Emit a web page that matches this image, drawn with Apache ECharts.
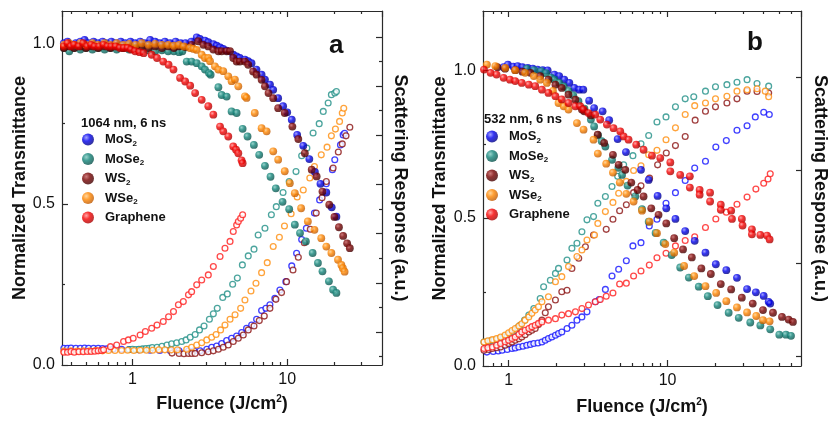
<!DOCTYPE html>
<html><head><meta charset="utf-8">
<script src="https://cdn.jsdelivr.net/npm/echarts@6/dist/echarts.min.js"></script>
<style>html,body{margin:0;padding:0;background:#fff}#c{width:832px;height:423px}</style>
</head><body><div id="c"></div>
<script>
// ---------- DATA (Fluence J/cm2, value) ----------
const legendNames = ['MoS2','MoSe2','WS2','WSe2','Graphene'];
const panelTitles = ['1064 nm, 6 ns','532 nm, 6 ns'];
const panelLetters = ['a','b'];
const xLabelTicks = [1, 10];
const yLabelTicks = [0, 0.5, 1.0];
const yMinorTicks = [0.25, 0.75];
const xMinorTicksA = [0.4,0.5,0.6,0.7,0.8,0.9,2,3,4,5,6,7,8,9,20,30];
const xMinorTicksB = [0.8,0.9,2,3,4,5,6,7,8,9,20,30,40,50,60];
const rightMajorA = [1,3,5,7,9,11,13];
const rightMinorA = [0,2,4,6,8,10,12];
const rightMajorB = [0,1,2,3];

// Panel a : 1064 nm — transmittance (filled)
const MoS2_a_T = [[0.36,1.0],[0.38,1.005],[0.40,0.995],[0.43,1.0],[0.46,1.005],[0.49,1.01],[0.52,1.0],[0.56,1.005],[0.60,1.0],[0.64,1.005],[0.68,1.0],[0.73,1.005],[0.78,1.0],[0.84,1.005],[0.90,1.0],[0.97,1.005],[1.04,1.0],[1.12,1.005],[1.20,1.0],[1.30,1.01],[1.40,1.005],[1.50,1.0],[1.62,1.005],[1.75,1.0],[1.90,1.005],[2.05,1.0],[2.20,1.0],[2.40,1.005],[2.60,1.018],[2.73,1.013],[2.94,1.008],[3.09,1.003],[3.33,0.997],[3.50,0.992],[3.68,0.987],[3.86,0.982],[4.06,0.977],[4.48,0.964],[4.71,0.959],[4.94,0.954],[5.33,0.949],[5.59,0.944],[5.88,0.938],[6.33,0.918],[6.83,0.902],[7.18,0.887],[7.74,0.871],[8.12,0.855],[8.74,0.829],[9.41,0.804],[10.0,0.785],[10.7,0.762],[11.6,0.715],[12.7,0.681],[13.9,0.640],[15.1,0.600],[16.4,0.563],[17.9,0.536],[19.4,0.490],[20.8,0.461]];
const MoSe2_a_T = [[0.36,0.985],[0.39,0.975],[0.42,0.985],[0.46,0.98],[0.50,0.985],[0.55,0.98],[0.60,0.985],[0.66,0.98],[0.72,0.985],[0.79,0.98],[0.87,0.985],[0.95,0.98],[1.05,0.985],[1.15,0.98],[1.27,0.978],[1.40,0.975],[1.55,0.978],[1.70,0.975],[1.85,0.975],[2.0,0.972],[2.1,0.975],[2.24,0.943],[2.41,0.943],[2.60,0.938],[2.80,0.928],[2.94,0.918],[3.12,0.907],[3.20,0.902],[3.59,0.863],[3.77,0.839],[4.06,0.834],[4.37,0.788],[4.71,0.783],[5.15,0.734],[5.54,0.710],[6.09,0.684],[6.59,0.653],[7.18,0.619],[7.80,0.585],[8.44,0.549],[9.33,0.507],[10.3,0.484],[11.2,0.436],[12.1,0.410],[13.2,0.384],[14.6,0.348],[15.8,0.317],[16.9,0.291],[18.6,0.260],[19.8,0.234],[20.8,0.224]];
const WS2_a_T = [[0.36,0.985],[0.39,0.99],[0.42,0.985],[0.46,0.99],[0.50,0.985],[0.55,0.99],[0.60,0.985],[0.66,0.99],[0.72,0.985],[0.79,0.99],[0.87,0.985],[0.95,0.99],[1.05,0.985],[1.15,0.99],[1.27,0.985],[1.40,0.99],[1.55,0.985],[1.70,0.99],[1.85,0.985],[2.0,0.99],[2.2,0.988],[2.41,0.995],[2.66,1.006],[2.87,0.995],[3.09,0.99],[3.33,0.98],[3.59,0.975],[3.77,0.975],[4.06,0.975],[4.27,0.975],[4.48,0.954],[4.71,0.943],[4.94,0.943],[5.33,0.943],[5.60,0.933],[6.02,0.912],[6.34,0.902],[6.83,0.886],[7.18,0.866],[7.57,0.845],[8.12,0.829],[8.74,0.798],[9.64,0.783],[10.8,0.741],[11.8,0.702],[13.0,0.658],[14.4,0.607],[15.5,0.586],[16.9,0.539],[18.7,0.498],[20.2,0.46],[21.6,0.428],[23.0,0.401],[24.4,0.378],[25.4,0.363]];
const WSe2_a_T = [[0.36,0.995],[0.39,1.0],[0.42,0.995],[0.46,1.0],[0.50,0.995],[0.55,1.0],[0.60,0.995],[0.66,1.0],[0.72,0.995],[0.79,1.0],[0.87,0.995],[0.95,0.998],[1.05,0.995],[1.15,1.0],[1.27,0.995],[1.40,0.998],[1.55,0.995],[1.70,0.995],[1.85,0.992],[2.0,0.995],[2.15,0.99],[2.35,0.985],[2.48,0.982],[2.60,0.979],[2.80,0.964],[2.94,0.954],[3.09,0.954],[3.17,0.944],[3.41,0.928],[3.59,0.918],[3.86,0.913],[4.16,0.897],[4.37,0.882],[4.59,0.887],[4.83,0.866],[5.33,0.835],[5.46,0.830],[6.17,0.783],[6.83,0.736],[7.36,0.726],[8.12,0.664],[8.74,0.638],[9.64,0.602],[10.4,0.565],[11.2,0.534],[12.3,0.487],[13.6,0.446],[15.0,0.420],[16.6,0.394],[17.9,0.368],[19.3,0.348],[21.3,0.327],[22.4,0.311],[22.9,0.301],[23.5,0.290]];
const Gr_a_T = [[0.36,0.99],[0.38,1.0],[0.40,0.99],[0.42,0.995],[0.45,0.99],[0.48,1.0],[0.51,0.99],[0.54,0.995],[0.57,0.99],[0.61,0.99],[0.65,0.995],[0.69,0.99],[0.73,0.99],[0.78,0.99],[0.83,0.985],[0.88,0.985],[0.93,0.985],[0.98,0.98],[1.04,0.975],[1.11,0.972],[1.18,0.969],[1.33,0.964],[1.44,0.954],[1.58,0.943],[1.71,0.933],[1.84,0.918],[2.03,0.892],[2.19,0.881],[2.36,0.868],[2.54,0.845],[2.80,0.824],[3.09,0.804],[3.33,0.778],[3.68,0.741],[3.86,0.726],[4.16,0.710],[4.48,0.679],[4.67,0.669],[4.83,0.658],[5.07,0.636],[5.15,0.627]];

// Panel a : scattering (open)
const MoS2_a_S = [[0.36,0.052],[0.38,0.052],[0.40,0.053],[0.43,0.052],[0.46,0.052],[0.49,0.053],[0.52,0.052],[0.56,0.052],[0.60,0.052],[0.64,0.051],[0.68,0.05],[0.75,0.05],[0.85,0.049],[0.95,0.048],[1.1,0.047],[1.3,0.046],[1.5,0.045],[1.75,0.045],[2.0,0.044],[2.3,0.044],[2.5,0.044],[2.73,0.044],[3.02,0.049],[3.25,0.055],[3.50,0.059],[3.77,0.067],[4.06,0.076],[4.37,0.083],[4.71,0.090],[5.08,0.101],[5.46,0.114],[5.89,0.124],[6.34,0.142],[6.83,0.169],[7.28,0.176],[7.73,0.187],[8.32,0.207],[8.97,0.233],[9.80,0.259],[10.7,0.308],[11.5,0.347],[12.4,0.39],[13.3,0.425],[15.0,0.472],[16.2,0.513],[17.9,0.563],[19.6,0.607],[20.3,0.638],[22.1,0.684],[23.0,0.715],[23.5,0.72]];
const MoSe2_a_S = [[0.95,0.048],[1.0,0.049],[1.05,0.048],[1.10,0.049],[1.16,0.05],[1.22,0.051],[1.28,0.052],[1.34,0.054],[1.44,0.055],[1.55,0.058],[1.67,0.062],[1.79,0.066],[1.93,0.069],[2.08,0.073],[2.22,0.078],[2.36,0.086],[2.54,0.095],[2.71,0.109],[2.90,0.121],[3.14,0.142],[3.33,0.159],[3.53,0.176],[3.83,0.210],[4.10,0.221],[4.44,0.251],[4.76,0.270],[5.13,0.311],[5.60,0.339],[6.10,0.360],[6.49,0.404],[7.18,0.425],[7.9,0.467],[8.5,0.492],[9.4,0.536],[10.3,0.570],[11.4,0.601],[12.4,0.650],[13.4,0.674],[14.7,0.721],[16.1,0.750],[17.1,0.788],[18.4,0.814],[19.3,0.840],[20.3,0.845],[20.8,0.850]];
const WS2_a_S = [[1.8,0.037],[2.0,0.036],[2.15,0.035],[2.3,0.036],[2.42,0.036],[2.54,0.036],[2.80,0.038],[3.09,0.041],[3.33,0.044],[3.59,0.049],[3.86,0.055],[4.16,0.062],[4.48,0.073],[4.83,0.083],[5.20,0.093],[5.60,0.109],[6.10,0.121],[6.60,0.138],[7.11,0.152],[7.73,0.176],[8.45,0.204],[9.19,0.225],[9.90,0.259],[10.9,0.295],[11.8,0.335],[12.9,0.38],[14.1,0.422],[15.4,0.472],[16.8,0.52],[17.9,0.57],[19.8,0.612],[21.4,0.662],[22.7,0.687],[24.0,0.712],[25.4,0.739]];
const WSe2_a_S = [[0.36,0.043],[0.40,0.044],[0.44,0.043],[0.48,0.044],[0.53,0.044],[0.58,0.045],[0.64,0.044],[0.70,0.045],[0.77,0.045],[0.85,0.045],[0.93,0.046],[1.02,0.045],[1.12,0.046],[1.23,0.046],[1.35,0.046],[1.48,0.047],[1.62,0.047],[1.78,0.047],[1.95,0.047],[2.24,0.049],[2.41,0.055],[2.60,0.062],[2.80,0.069],[3.02,0.078],[3.25,0.086],[3.47,0.095],[3.71,0.109],[3.96,0.124],[4.27,0.142],[4.60,0.156],[5.00,0.176],[5.33,0.202],[5.83,0.230],[6.28,0.254],[6.83,0.287],[7.43,0.318],[8.12,0.368],[8.9,0.397],[9.6,0.432],[10.6,0.470],[11.6,0.522],[12.7,0.544],[14.0,0.581],[15.0,0.617],[16.6,0.653],[18.1,0.677],[19.3,0.712],[20.5,0.733],[21.8,0.757],[22.7,0.783],[23.2,0.798]];
const Gr_a_S = [[0.36,0.040],[0.38,0.040],[0.40,0.042],[0.42,0.040],[0.45,0.041],[0.48,0.041],[0.51,0.042],[0.54,0.042],[0.57,0.043],[0.60,0.044],[0.63,0.045],[0.65,0.047],[0.72,0.057],[0.79,0.062],[0.875,0.073],[0.94,0.078],[1.01,0.083],[1.12,0.093],[1.21,0.104],[1.33,0.114],[1.44,0.124],[1.58,0.135],[1.71,0.150],[1.84,0.166],[1.98,0.187],[2.13,0.197],[2.30,0.218],[2.41,0.228],[2.60,0.249],[2.80,0.264],[3.09,0.280],[3.33,0.306],[3.68,0.337],[3.96,0.363],[4.27,0.384],[4.48,0.415],[4.71,0.435],[4.83,0.446],[5.0,0.456],[5.15,0.467]];

// Panel b : 532 nm — transmittance (filled)
const MoS2_b_T = [[0.93,1.01],[0.99,1.019],[1.07,1.012],[1.14,1.014],[1.22,1.01],[1.32,1.008],[1.42,1.005],[1.52,1.002],[1.64,1.0],[1.76,0.999],[1.94,0.985],[2.08,0.980],[2.24,0.968],[2.41,0.957],[2.59,0.940],[2.78,0.934],[2.95,0.934],[3.21,0.897],[3.45,0.872],[3.90,0.861],[4.29,0.831],[4.85,0.767],[5.47,0.723],[6.80,0.663],[7.60,0.629],[8.65,0.575],[9.81,0.533],[11.2,0.497],[12.9,0.456],[14.8,0.423],[17.3,0.383],[20.1,0.344],[23.4,0.324],[27.3,0.298],[31.6,0.260],[35.9,0.249],[40.2,0.237],[43.2,0.217],[44.2,0.211]];
const MoSe2_b_T = [[1.30,1.005],[1.45,1.0],[1.60,0.997],[1.72,0.99],[1.85,0.975],[1.94,0.968],[2.08,0.957],[2.22,0.945],[2.38,0.93],[2.55,0.915],[2.75,0.895],[3.0,0.87],[3.29,0.833],[3.45,0.81],[3.65,0.78],[3.85,0.76],[4.06,0.742],[4.47,0.697],[4.9,0.67],[5.17,0.646],[5.6,0.61],[6.26,0.573],[6.9,0.53],[7.60,0.488],[8.4,0.45],[9.44,0.417],[10.6,0.375],[12.0,0.333],[13.6,0.299],[15.7,0.268],[17.9,0.236],[20.6,0.206],[24.2,0.18],[28.0,0.163],[33.1,0.147],[38.3,0.137],[44.2,0.124],[50.4,0.106],[55.5,0.106],[59.7,0.102]];
const WS2_b_T = [[0.85,1.01],[0.95,1.005],[1.10,1.0],[1.22,0.995],[1.37,0.991],[1.58,0.98],[1.78,0.968],[1.97,0.951],[2.16,0.94],[2.38,0.917],[2.63,0.90],[2.89,0.867],[2.99,0.861],[3.29,0.847],[3.63,0.782],[3.99,0.754],[4.53,0.714],[4.92,0.680],[5.42,0.663],[5.91,0.620],[6.47,0.595],[7.06,0.573],[7.89,0.533],[8.77,0.511],[9.81,0.482],[11.0,0.432],[12.5,0.394],[14.2,0.367],[16.3,0.330],[18.7,0.311],[21.6,0.277],[25.1,0.259],[29.3,0.231],[34.3,0.211],[39.8,0.189],[46.0,0.180],[52.4,0.166],[57.7,0.157],[61.4,0.149]];
const WSe2_b_T = [[0.73,1.019],[0.825,1.014],[0.953,1.008],[1.10,1.0],[1.27,0.991],[1.44,0.98],[1.58,0.968],[1.74,0.957],[1.90,0.93],[2.06,0.889],[2.22,0.878],[2.38,0.867],[2.69,0.821],[2.96,0.799],[3.42,0.765],[3.64,0.718],[4.11,0.684],[4.53,0.654],[5.0,0.62],[5.50,0.582],[6.11,0.556],[6.90,0.525],[7.70,0.488],[8.57,0.449],[9.67,0.412],[11.0,0.383],[12.7,0.338],[14.7,0.304],[17.3,0.270],[20.2,0.247],[23.4,0.219],[27.3,0.198],[31.6,0.181],[36.1,0.169],[39.8,0.155],[43.8,0.151]];
const Gr_b_T = [[0.70,1.002],[0.77,0.991],[0.84,0.985],[0.93,0.974],[1.02,0.968],[1.10,0.963],[1.21,0.957],[1.34,0.951],[1.47,0.946],[1.62,0.934],[1.78,0.923],[1.97,0.912],[2.16,0.901],[2.38,0.889],[2.63,0.878],[2.82,0.878],[2.96,0.867],[3.18,0.855],[3.51,0.850],[3.77,0.833],[4.15,0.816],[4.57,0.804],[5.04,0.793],[5.29,0.776],[5.68,0.765],[6.35,0.748],[7.06,0.731],[7.97,0.711],[8.99,0.703],[10.4,0.688],[10.4,0.658],[12.0,0.646],[13.8,0.641],[13.8,0.603],[15.9,0.595],[15.9,0.579],[18.5,0.586],[18.5,0.556],[21.6,0.545],[21.6,0.528],[25.1,0.525],[25.4,0.497],[29.3,0.497],[29.6,0.475],[33.9,0.462],[33.9,0.445],[38.3,0.443],[42.2,0.441],[43.8,0.428]];

// Panel b : scattering (open)
const MoS2_b_S = [[0.73,0.047],[0.80,0.049],[0.86,0.051],[0.91,0.053],[0.98,0.056],[1.05,0.059],[1.10,0.061],[1.16,0.064],[1.23,0.067],[1.30,0.070],[1.37,0.073],[1.44,0.076],[1.53,0.078],[1.62,0.081],[1.70,0.087],[1.78,0.093],[1.87,0.098],[1.97,0.104],[2.06,0.11],[2.16,0.115],[2.33,0.127],[2.50,0.138],[2.69,0.155],[2.89,0.166],[3.11,0.183],[3.51,0.217],[3.71,0.225],[4.06,0.259],[4.47,0.304],[4.92,0.327],[5.50,0.356],[6.05,0.406],[6.80,0.417],[7.67,0.473],[8.57,0.496],[9.77,0.550],[11.2,0.586],[12.9,0.627],[14.8,0.669],[17.3,0.692],[20.1,0.740],[23.4,0.762],[27.3,0.797],[31.6,0.812],[35.6,0.842],[40.2,0.858],[43.6,0.850]];
const MoSe2_b_S = [[0.70,0.081],[0.74,0.083],[0.77,0.085],[0.81,0.087],[0.84,0.089],[0.89,0.094],[0.93,0.098],[0.98,0.104],[1.02,0.110],[1.06,0.115],[1.10,0.121],[1.14,0.13],[1.18,0.138],[1.26,0.155],[1.34,0.172],[1.44,0.194],[1.58,0.228],[1.66,0.268],[1.83,0.290],[1.97,0.313],[2.06,0.330],[2.33,0.358],[2.50,0.398],[2.69,0.415],[2.89,0.454],[3.11,0.494],[3.42,0.505],[3.64,0.550],[4.06,0.573],[4.47,0.607],[4.85,0.641],[5.29,0.680],[6.05,0.711],[6.80,0.751],[7.60,0.779],[8.57,0.825],[9.77,0.842],[11.2,0.876],[12.9,0.903],[14.6,0.910],[17.3,0.929],[20.0,0.944],[23.6,0.951],[27.3,0.959],[31.6,0.968],[36.5,0.955],[43.2,0.946]];
const WS2_b_S = [[0.70,0.053],[0.75,0.056],[0.79,0.059],[0.84,0.062],[0.89,0.064],[0.95,0.07],[1.0,0.076],[1.05,0.081],[1.10,0.087],[1.16,0.092],[1.21,0.098],[1.27,0.106],[1.34,0.115],[1.40,0.121],[1.47,0.127],[1.54,0.14],[1.62,0.155],[1.70,0.18],[1.78,0.200],[1.97,0.223],[2.16,0.251],[2.33,0.256],[2.50,0.330],[2.76,0.364],[3.04,0.403],[3.42,0.443],[4.11,0.462],[4.53,0.496],[4.99,0.525],[5.50,0.545],[6.11,0.586],[6.80,0.609],[7.70,0.635],[8.65,0.680],[9.81,0.720],[11.2,0.745],[12.9,0.776],[14.9,0.831],[17.3,0.861],[20.0,0.876],[23.6,0.889],[27.3,0.903],[31.6,0.929],[36.5,0.928],[43.2,0.923]];
const WSe2_b_S = [[0.70,0.081],[0.74,0.085],[0.79,0.089],[0.84,0.093],[0.89,0.098],[0.95,0.105],[1.0,0.112],[1.05,0.12],[1.10,0.127],[1.16,0.135],[1.21,0.143],[1.27,0.155],[1.34,0.166],[1.40,0.178],[1.47,0.189],[1.54,0.2],[1.62,0.217],[1.78,0.234],[1.97,0.285],[2.16,0.302],[2.38,0.336],[2.69,0.370],[2.89,0.392],[3.11,0.426],[3.47,0.443],[3.64,0.482],[4.06,0.522],[4.53,0.553],[4.92,0.584],[5.50,0.624],[6.11,0.661],[6.80,0.677],[7.60,0.714],[8.57,0.729],[9.77,0.765],[11.2,0.805],[12.9,0.850],[14.8,0.880],[17.3,0.889],[20.0,0.903],[23.6,0.912],[27.3,0.929],[31.6,0.934],[36.5,0.937],[41.1,0.929],[43.2,0.910]];
const Gr_b_S = [[0.70,0.059],[0.74,0.062],[0.79,0.064],[0.84,0.07],[0.89,0.076],[0.95,0.082],[1.0,0.087],[1.05,0.093],[1.10,0.098],[1.16,0.107],[1.21,0.115],[1.27,0.121],[1.34,0.127],[1.40,0.133],[1.47,0.138],[1.54,0.144],[1.62,0.149],[1.78,0.155],[1.97,0.160],[2.16,0.172],[2.38,0.177],[2.63,0.183],[2.89,0.194],[3.18,0.206],[3.51,0.217],[3.77,0.225],[4.11,0.236],[4.53,0.247],[4.99,0.277],[5.50,0.28],[6.11,0.304],[6.80,0.321],[7.67,0.341],[8.57,0.366],[9.77,0.381],[11.2,0.406],[12.9,0.424],[14.8,0.437],[17.3,0.468],[20.1,0.497],[23.4,0.520],[27.3,0.547],[31.6,0.571],[35.9,0.598],[40.2,0.618],[42.8,0.632],[44.2,0.650]];

// ---------- STYLE ----------
const FONT = "'Liberation Sans', Arial, Helvetica, sans-serif";
const AX = '#2a2a2a';
const palette = {
  MoS2:    {base:'#0000ee', light:'#8c8cff', dark:'#00007a', line:'#1010ff'},
  MoSe2:   {base:'#128479', light:'#7fc8bf', dark:'#084c46', line:'#1f8f86'},
  WS2:     {base:'#780000', light:'#c05a5a', dark:'#3e0000', line:'#8a1010'},
  WSe2:    {base:'#ff8600', light:'#ffcc85', dark:'#b85400', line:'#ff8c0a'},
  Graphene:{base:'#f60000', light:'#ff8f8f', dark:'#a00000', line:'#ff1a1a'}
};
function sphere(p){
  return {type:'radial', x:0.36, y:0.34, r:0.72, colorStops:[
    {offset:0, color:p.light},{offset:0.42, color:p.base},{offset:1, color:p.dark}]};
}
const subName = {MoS2:['MoS','2'], MoSe2:['MoSe','2'], WS2:['WS','2'], WSe2:['WSe','2'], Graphene:['Graphene','']};

const dataA_T = {MoS2:MoS2_a_T, MoSe2:MoSe2_a_T, WS2:WS2_a_T, WSe2:WSe2_a_T, Graphene:Gr_a_T};
const dataA_S = {MoS2:MoS2_a_S, MoSe2:MoSe2_a_S, WS2:WS2_a_S, WSe2:WSe2_a_S, Graphene:Gr_a_S};
const dataB_T = {MoS2:MoS2_b_T, MoSe2:MoSe2_b_T, WS2:WS2_b_T, WSe2:WSe2_b_T, Graphene:Gr_b_T};
const dataB_S = {MoS2:MoS2_b_S, MoSe2:MoSe2_b_S, WS2:WS2_b_S, WSe2:WSe2_b_S, Graphene:Gr_b_S};

const lineStyle = {color:AX, width:1.2};
const tickText = {fontSize:16, color:'#111', fontFamily:FONT};
const nameStyle = {fontSize:18, fontWeight:'bold', color:'#111', fontFamily:FONT};
const fluenceName = '{b|Fluence (J/cm}{p|2}{b|)}';
const fluenceRich = {
  b:{fontSize:18, fontWeight:'bold', fontFamily:FONT, color:'#111', lineHeight:20},
  p:{fontSize:10, fontWeight:'bold', fontFamily:FONT, color:'#111', lineHeight:10, verticalAlign:'top'}
};

function xMain(g, min, max, pos, labels, nameGap){
  const a = {type:'log', logBase:10, gridIndex:g, min, max, position:pos,
    axisLine:{show:true, onZero:false, lineStyle},
    axisTick:{show:true, inside:true, length:6, lineStyle},
    axisLabel:Object.assign({show:labels, showMinLabel:false, showMaxLabel:false, margin:7}, tickText),
    splitLine:{show:false}, minorTick:{show:false}, minorSplitLine:{show:false}};
  if (labels){ a.name = fluenceName; a.nameLocation='middle'; a.nameGap=nameGap; a.nameTextStyle={rich:fluenceRich}; }
  return a;
}
function xMinor(g, min, max, pos, vals){
  return {type:'value', gridIndex:g, min:Math.log10(min), max:Math.log10(max), position:pos,
    axisLine:{show:false, onZero:false}, axisLabel:{show:false}, splitLine:{show:false},
    axisTick:{show:true, inside:true, length:3, customValues:vals.map(Math.log10), lineStyle}};
}
function yLeft(g, max, nameGap){
  return {type:'value', gridIndex:g, min:0, max, position:'left',
    axisLine:{show:true, onZero:false, lineStyle},
    axisTick:{show:true, inside:true, length:6, customValues:yLabelTicks, lineStyle},
    axisLabel:Object.assign({customValues:yLabelTicks, margin:7, formatter:v=>Number(v).toFixed(1)}, tickText),
    splitLine:{show:false},
    name:'Normalized Transmittance', nameLocation:'middle', nameGap, nameRotate:90, nameTextStyle:nameStyle};
}
function yLeftMinor(g, max){
  return {type:'value', gridIndex:g, min:0, max, position:'left',
    axisLine:{show:false, onZero:false}, axisLabel:{show:false}, splitLine:{show:false},
    axisTick:{show:true, inside:true, length:3, customValues:yMinorTicks, lineStyle}};
}
function yRight(g, min, max, vals, len, withLine, nameGap){
  const a = {type:'value', gridIndex:g, min, max, position:'right',
    axisLine:{show:withLine, onZero:false, lineStyle}, axisLabel:{show:false}, splitLine:{show:false},
    axisTick:{show:vals.length>0, inside:true, length:len, customValues:vals, lineStyle}};
  if (withLine){ a.name='Scattering Response (a.u.)'; a.nameLocation='middle'; a.nameGap=nameGap; a.nameRotate=-90; a.nameTextStyle=nameStyle; }
  return a;
}

const xA = [0.35, 41], xB = [0.69, 69];
const xAxis = [
  xMain(0, xA[0], xA[1], 'bottom', true, 29), xMinor(0, xA[0], xA[1], 'bottom', xMinorTicksA),
  xMain(0, xA[0], xA[1], 'top', false), xMinor(0, xA[0], xA[1], 'top', xMinorTicksA),
  xMain(1, xB[0], xB[1], 'bottom', true, 31), xMinor(1, xB[0], xB[1], 'bottom', xMinorTicksB),
  xMain(1, xB[0], xB[1], 'top', false), xMinor(1, xB[0], xB[1], 'top', xMinorTicksB)
];
const yAxis = [
  yLeft(0, 1.1, 33), yLeftMinor(0, 1.1), yRight(0, -0.34, 14.05, rightMajorA, 6, true, 9), yRight(0, -0.34, 14.05, rightMinorA, 3, false),
  yLeft(1, 1.2, 34), yLeftMinor(1, 1.2), yRight(1, -0.1, 3.717, rightMajorB, 5, true, 10), yRight(1, -0.1, 3.717, [], 3, false)
];

const series = [];
function addPanel(dT, dS, xi, yi){
  legendNames.forEach(n => {
    series.push({type:'scatter', name:n+' scattering', xAxisIndex:xi, yAxisIndex:yi, data:dS[n],
      symbol:'circle', symbolSize:5.8, silent:true,
      itemStyle:{color:'#ffffff', borderColor:palette[n].line, borderWidth:1.3}});
  });
  legendNames.forEach(n => {
    series.push({type:'scatter', name:n, xAxisIndex:xi, yAxisIndex:yi, data:dT[n],
      symbol:'circle', symbolSize:7.8, silent:true,
      itemStyle:{color:sphere(palette[n]), borderWidth:0}});
  });
}
addPanel(dataA_T, dataA_S, 0, 0);
addPanel(dataB_T, dataB_S, 4, 4);

const legendRich = {
  m:{fontSize:13, fontWeight:'bold', fontFamily:FONT, color:'#111', lineHeight:16},
  s:{fontSize:8, fontWeight:'bold', fontFamily:FONT, color:'#111', lineHeight:6, verticalAlign:'bottom'}
};
function legendAt(left, top){
  return {show:true, orient:'vertical', left, top, itemWidth:24, itemHeight:12, itemGap:5,
    icon:'circle', selectedMode:false, padding:0, data:legendNames,
    itemStyle:{borderWidth:0},
    formatter:n => subName[n][1] ? '{m|'+subName[n][0]+'}{s|'+subName[n][1]+'}' : '{m|'+subName[n][0]+'}',
    textStyle:{fontSize:13, fontWeight:'bold', fontFamily:FONT, color:'#111', rich:legendRich}};
}

const option = {
  animation:false, backgroundColor:'#ffffff',
  grid:[
    {left:62, top:11, width:320, height:354, containLabel:false, outerBoundsMode:'none'},
    {left:483, top:11, width:318, height:355, containLabel:false, outerBoundsMode:'none'}
  ],
  title:[
    {text:panelTitles[0], left:81, top:117, padding:0, textStyle:{fontSize:13, fontWeight:'bold', fontFamily:FONT, color:'#111'}},
    {text:panelTitles[1], left:484, top:113, padding:0, textStyle:{fontSize:13, fontWeight:'bold', fontFamily:FONT, color:'#111'}},
    {text:panelLetters[0], left:329, top:33, padding:0, textStyle:{fontSize:26, fontWeight:'bold', fontFamily:FONT, color:'#111'}},
    {text:panelLetters[1], left:747, top:30, padding:0, textStyle:{fontSize:26, fontWeight:'bold', fontFamily:FONT, color:'#111'}}
  ],
  legend:[legendAt(82, 133), legendAt(486, 130)],
  xAxis, yAxis, series
};
const chart = echarts.init(document.getElementById('c'), null, {renderer:'canvas', devicePixelRatio:1, width:832, height:423});
chart.setOption(option);
</script></body></html>
